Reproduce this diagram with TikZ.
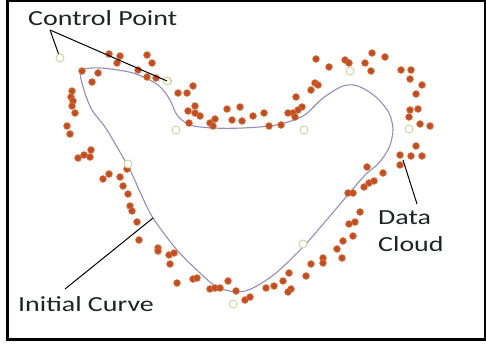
\documentclass[tikz,border=0pt]{standalone}
\usepackage{fontspec}
\setmainfont{Carlito}
\usepackage{graphicx}
\definecolor{dotfill}{RGB}{190,78,38}
\definecolor{dotedge}{RGB}{225,115,55}
\definecolor{ctrlc}{RGB}{212,212,165}
\definecolor{curvec}{RGB}{150,140,185}
\definecolor{txtc}{RGB}{30,35,40}
\tikzset{
  datadot/.style={fill=dotfill,draw=dotedge,line width=0.6pt},
  ctrlpt/.style={circle,draw=ctrlc,line width=1pt,fill=white,minimum size=8pt,inner sep=0pt},
  splinecurve/.style={draw=curvec,line width=1.1pt},
  leader/.style={draw=black,line width=1pt},
  lbl/.style={text=txtc,inner sep=0pt,font=\fontsize{21.5}{24}\selectfont},
  frame/.style={draw=black,line width=3pt}
}
\begin{document}
\begin{tikzpicture}[x=1pt,y=-1pt]
\useasboundingbox (0,0) rectangle (486,345);
\fill[white] (0,0) rectangle (486,345);
% curve
\draw[splinecurve] plot[smooth cycle, tension=0.5] coordinates {
(81,71) (100,68) (133,73) (158,85) (170,100) (177,115) (190,125) (213,128)
(243,128) (276,125) (303,116) (323,98) (343,86) (358,86) (376,97) (389,113)
(393,130) (389,148) (378,164) (366,174) (352,190) (330,216) (303,247) (276,273)
(253,288) (237,292) (217,287) (200,273) (177,250) (153,218) (140,192) (130,170)
(107,130) (92,110) (84,90)};
% data dots
\foreach \p in {
(109,54),(120,56),(117,63),(147,55),(152,63),(138,70),(147,77),(156,78),(168,81),
(82,71),(98,73),(92,82),(72,91),(71,97),(73,101),(72,106),(75,113),(67,126),(70,134),
(78,158),(84,155),(91,150),(90,157),
(103,179),(109,174),(120,177),(127,169),(123,186),(128,194),(130,206),(132,211),
(137,222),(139,240),(158,248),(158,251),(169,255),(174,253),(170,264),(177,283),
(193,279),(197,278),(210,289),(215,288),(220,288),(228,281),(236,291),
(245,300),(250,297),(266,288),(274,286),(283,281),(289,273),(291,289),(288,292),
(306,276),(311,264),(323,258),(323,263),(337,249),(342,258),(343,241),(349,224),
(355,222),(353,236),(360,212),(348,193),(353,193),(364,187),(369,183),(374,181),
(383,173),(367,167),(400,155),(411,156),(422,156),(400,165),
(416,146),(420,124),(430,126),(409,117),(410,110),(418,109),(416,94),(422,85),
(410,79),(401,70),(411,70),(385,57),(372,53),(371,71),(365,63),(345,60),(349,63),
(329,67),(316,59),
(315,83),(318,85),(311,90),(296,97),(302,107),(298,110),(293,113),(288,113),
(295,117),(264,113),(253,116),(269,126),(281,125),
(240,107),(227,109),(232,120),(242,121),(210,123),(215,119),(213,126),(189,123),
(200,116),(195,113),(188,111),(195,106),(178,93),(187,93),(193,86)}
  \path[datadot] \p circle[radius=3.4pt];
% control points
\node[ctrlpt] (c1) at (60,58) {};
\node[ctrlpt] (c2) at (167,81) {};
\node[ctrlpt] (c3) at (176,130) {};
\node[ctrlpt] (c4) at (304,130) {};
\node[ctrlpt] (c5) at (350,71) {};
\node[ctrlpt] (c6) at (409,129) {};
\node[ctrlpt] (c7) at (303,244) {};
\node[ctrlpt] (c8) at (233,304) {};
\node[ctrlpt] (c9) at (128,164) {};
% labels
\node[lbl,anchor=base west] (cptxt) at (28,26) {\scalebox{1.3}[1]{Control Point}};
\node[lbl,anchor=base west] (ictxt) at (18,311) {\scalebox{1.3}[1]{Initial Curve}};
\node[lbl,anchor=base west] (dtxt) at (378,224) {\scalebox{1.3}[1]{Data}};
\node[lbl,anchor=base west] (cltxt) at (378,251) {\scalebox{1.3}[1]{Cloud}};
% leader lines
\coordinate (cproot) at (50,30);
\coordinate (icroot) at (65,289);
\coordinate (icend) at (153,218);
\coordinate (dcroot) at (417,204);
\coordinate (dcend) at (403,160);
\draw[leader] (cproot) -- (c1);
\draw[leader] (cproot) -- (c2.center);
\draw[leader] (icroot) -- (icend);
\draw[leader] (dcroot) -- (dcend);
% frame
\draw[frame] (7.5,1) rectangle (485,339.5);
\end{tikzpicture}
\end{document}
